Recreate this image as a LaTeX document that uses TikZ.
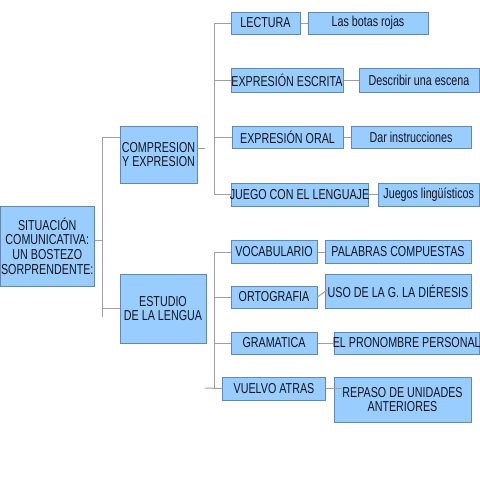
\documentclass[tikz,border=0pt]{standalone}
\usepackage{fontspec}
\setmainfont{Liberation Sans}[FakeStretch=0.745]
\definecolor{boxfill}{RGB}{153,204,255}
\definecolor{boxline}{RGB}{100,135,175}
\definecolor{wire}{RGB}{160,160,160}
\definecolor{ink}{RGB}{20,20,30}
\tikzset{
  bx/.style={draw=boxline, fill=boxfill, line width=1pt, inner sep=0pt, rectangle},
  txt/.style={text=ink, font=\fontsize{14.4}{14.6}\selectfont, align=center, inner sep=0pt},
  bt/.style={label={[txt]center:{#1}}},
  wirel/.style={draw=wire, line width=1pt}
}
\begin{document}
\begin{tikzpicture}[x=1pt,y=-1pt]
\useasboundingbox (0,0) rectangle (480,480);
% boxes
\node[bx, minimum width=93.5, minimum height=80, bt={SITUACIÓN\\COMUNICATIVA:\\UN BOSTEZO\\SORPRENDENTE:}] (sit) at (47.25,246) {};
\node[bx, minimum width=77, minimum height=57, bt={COMPRESION\\Y EXPRESION}] (comp) at (158.5,154.5) {};
\node[bx, minimum width=86, minimum height=69, bt={ESTUDIO\\DE LA LENGUA}] (est) at (163,308.5) {};
\node[bx, minimum width=69, minimum height=22, bt={LECTURA}] (lect) at (265.5,23) {};
\node[bx, minimum width=120, minimum height=22, bt={Las botas rojas}] (las) at (368,23) {};
\node[bx, minimum width=112, minimum height=24, bt={EXPRESIÓN ESCRITA}] (ee) at (287,80) {};
\node[bx, minimum width=120, minimum height=24, bt={Describir una escena}] (desc) at (419,80) {};
\node[bx, minimum width=111, minimum height=22, bt={EXPRESIÓN ORAL}] (eo) at (287.5,137) {};
\node[bx, minimum width=120, minimum height=22, bt={Dar instrucciones}] (dar) at (411,137) {};
\node[bx, minimum width=137, minimum height=23, bt={JUEGO CON EL LENGUAJE}] (jue) at (299.5,194.5) {};
\node[bx, minimum width=101.5, minimum height=23, bt={Juegos lingüísticos}] (jl) at (428.75,194.5) {};
\node[bx, minimum width=86, minimum height=23, bt={VOCABULARIO}] (voc) at (274,251.5) {};
\node[bx, minimum width=146, minimum height=23, bt={PALABRAS COMPUESTAS}] (pal) at (398,251.5) {};
\node[bx, minimum width=86, minimum height=22, bt={ORTOGRAFIA}] (ort) at (274,297) {};
\node[bx, minimum width=146, minimum height=34, bt={USO DE LA G. LA DIÉRESIS}] (uso) at (398,291) {};
\node[bx, minimum width=86, minimum height=22, bt={GRAMATICA}] (gram) at (274,343) {};
\node[bx, minimum width=145.5, minimum height=22, bt={EL PRONOMBRE PERSONAL}] (pron) at (406.75,343) {};
\node[bx, minimum width=103, minimum height=23, bt={VUELVO ATRAS}] (vue) at (274,388.5) {};
\node[bx, minimum width=137, minimum height=45, bt={REPASO DE UNIDADES\\ANTERIORES}] (rep) at (402.5,399.5) {};
% junctions
\coordinate (j0) at (102,240);
\coordinate (j0t) at (102,137);
\coordinate (j0e) at (102,308);
\coordinate (j0b) at (102,317);
\coordinate (j1) at (205,148);
\coordinate (j1t) at (214,23);
\coordinate (j1b) at (214,194);
\coordinate (j2t) at (214,252);
\coordinate (j2b) at (214,388);
\coordinate (j2) at (205,388);
\coordinate (ortend) at (327,290);
\coordinate (repend) at (342,388);
% level 1
\draw[wirel] (sit.east |- j0) -- (j0);
\draw[wirel] (j0t) -- (j0b);
\draw[wirel] (j0t) -- (comp.west |- j0t);
\draw[wirel] (j0e) -- (est.west |- j0e);
% level 2 upper
\draw[wirel] (comp.east |- j1) -- (j1);
\draw[wirel] (j1t) -- (j1b);
\draw[wirel] (j1t) -- (lect.west);
\draw[wirel] (j1t |- ee.west) -- (ee.west);
\draw[wirel] (j1t |- eo.west) -- (eo.west);
\draw[wirel] (j1b) -- (jue.west |- j1b);
% level 2 lower
\draw[wirel] (j2t) -- (j2b);
\draw[wirel] (j2t) -- (voc.west |- j2t);
\draw[wirel] (j2t |- ort.west) -- (ort.west);
\draw[wirel] (j2t |- gram.west) -- (gram.west);
\draw[wirel] (j2) -- (vue.west);
% leaves
\draw[wirel] (lect.east) -- (las.west);
\draw[wirel] (ee.east) -- (desc.west);
\draw[wirel] (eo.east) -- (dar.west);
\draw[wirel] (jue.east |- j1b) -- (jl.west |- j1b);
\draw[wirel] (voc.east |- j2t) -- (pal.west |- j2t);
\draw[wirel] (ort.east) -- (ortend);
\draw[wirel] (gram.east) -- (pron.west);
\draw[wirel] (vue.east |- repend) -- (repend);
\end{tikzpicture}
\end{document}
